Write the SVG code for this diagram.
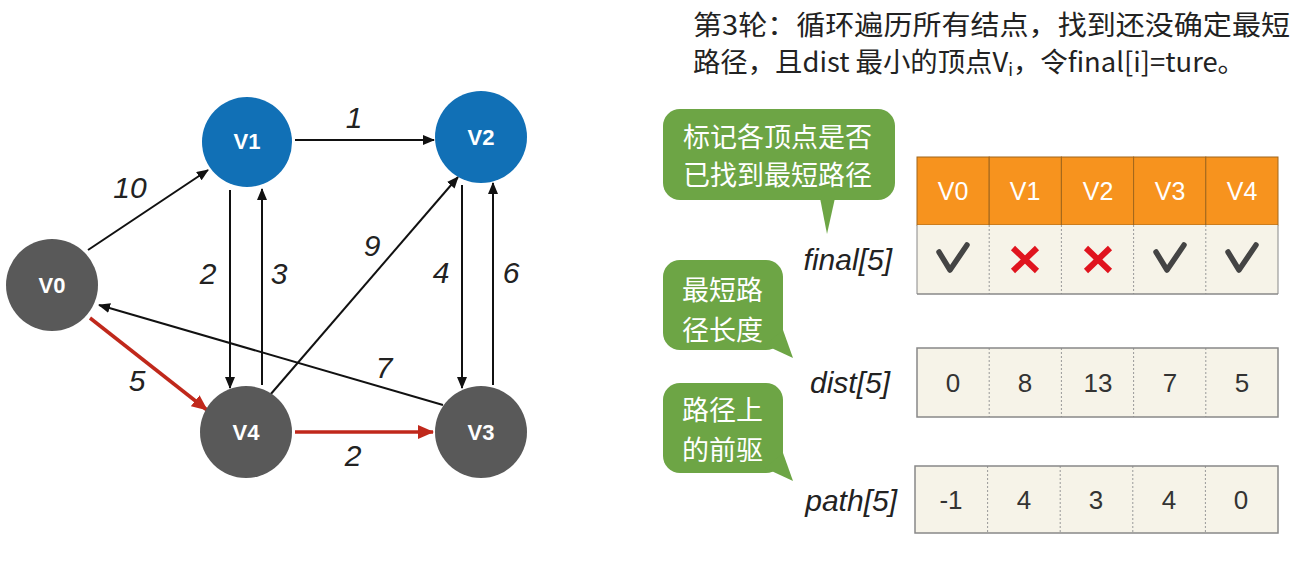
<svg xmlns="http://www.w3.org/2000/svg" width="1296" height="568" viewBox="0 0 1296 568">
<style>
.node-blue{fill:#1170B6}
.node-gray{fill:#595959}
.nl{font-family:"Liberation Sans",Arial,sans-serif;font-size:22px;font-weight:bold;fill:#fff;text-anchor:middle}
.el{font-family:"Liberation Sans",Arial,sans-serif;font-size:30px;font-style:italic;fill:#222;text-anchor:middle}
.edge{stroke:#111;stroke-width:2;fill:none}
.red{stroke:#C0281B;stroke-width:3.5;fill:none}
.title{font-family:"Noto Sans CJK SC","Liberation Sans",sans-serif;font-size:27px;fill:#222}
.bub{fill:#6DA545}
.bt{font-family:"Noto Sans CJK SC",sans-serif;font-size:27px;fill:#fff}
.lab{font-family:"Liberation Sans",Arial,sans-serif;font-size:30px;font-style:italic;fill:#222;text-anchor:end}
.hd{fill:#F7931E;stroke:#A0661C;stroke-width:1}
.cell{fill:#F6F3E8}
.outer{fill:none;stroke:#888;stroke-width:1.5}
.div{stroke:#999;stroke-width:1;stroke-dasharray:2 2}
.ht{font-family:"Liberation Sans",Arial,sans-serif;font-size:25px;fill:#fff;text-anchor:middle}
.ct{font-family:"Liberation Sans",Arial,sans-serif;font-size:26px;fill:#333;text-anchor:middle}
.chk{stroke:#444;stroke-width:5.5;fill:none;stroke-linecap:round;stroke-linejoin:round}
.x{stroke:#E0141E;stroke-width:6;stroke-linecap:butt}
</style>
<defs>
<marker id="ah" markerUnits="userSpaceOnUse" markerWidth="12" markerHeight="10" refX="11" refY="5" orient="auto">
<path d="M0,0 L12,5 L0,10 Z" fill="#111"/>
</marker>
<marker id="ahr" markerUnits="userSpaceOnUse" markerWidth="16" markerHeight="14" refX="15" refY="7" orient="auto">
<path d="M0,0 L16,7 L0,14 Z" fill="#C0281B"/>
</marker>
</defs>
<rect width="1296" height="568" fill="#fff"/>

<g id="connectors">
<line class="edge" x1="88" y1="250" x2="208" y2="170" marker-end="url(#ah)"/>
<line class="edge" x1="295" y1="140" x2="434" y2="140" marker-end="url(#ah)"/>
<line class="edge" x1="230" y1="190" x2="230" y2="388" marker-end="url(#ah)"/>
<line class="edge" x1="262" y1="385" x2="262" y2="189" marker-end="url(#ah)"/>
<line class="edge" x1="270" y1="395" x2="458" y2="177" marker-end="url(#ah)"/>
<line class="edge" x1="462" y1="185" x2="462" y2="388" marker-end="url(#ah)"/>
<line class="edge" x1="493" y1="385" x2="493" y2="183" marker-end="url(#ah)"/>
<line class="edge" x1="443" y1="405" x2="99" y2="305" marker-end="url(#ah)"/>
<line class="red" x1="90" y1="318" x2="207" y2="410" marker-end="url(#ahr)"/>
<line class="red" x1="295" y1="432" x2="433" y2="432" marker-end="url(#ahr)"/>
<text class="el" x="130" y="198">10</text>
<text class="el" x="354" y="128">1</text>
<text class="el" x="208" y="284">2</text>
<text class="el" x="279" y="284">3</text>
<text class="el" x="372" y="256">9</text>
<text class="el" x="441" y="283">4</text>
<text class="el" x="511" y="283">6</text>
<text class="el" x="384" y="378">7</text>
<text class="el" x="137" y="391">5</text>
<text class="el" x="353" y="466">2</text>
</g>

<g id="V0"><circle class="node-gray" cx="52" cy="285" r="46"/><text class="nl" x="52" y="293">V0</text></g>
<g id="V1"><circle class="node-blue" cx="247" cy="142" r="45"/><text class="nl" x="247" y="149">V1</text></g>
<g id="V2"><circle class="node-blue" cx="481" cy="137" r="46"/><text class="nl" x="481" y="145">V2</text></g>
<g id="V4"><circle class="node-gray" cx="246" cy="432" r="46"/><text class="nl" x="246" y="440">V4</text></g>
<g id="V3"><circle class="node-gray" cx="481" cy="432" r="46"/><text class="nl" x="481" y="440">V3</text></g>

<g id="title">
<text class="title" x="693" y="35" textLength="597" lengthAdjust="spacingAndGlyphs">第3轮：循环遍历所有结点，找到还没确定最短</text>
<text class="title" x="693" y="72" textLength="552" lengthAdjust="spacingAndGlyphs">路径，且dist 最小的顶点V<tspan font-size="17" dy="4">i</tspan><tspan dy="-4">，令final[i]=ture。</tspan></text>
</g>

<g id="bubble-final">
<rect class="bub" x="663" y="109" width="232" height="91" rx="17"/>
<path class="bub" d="M820,198 L835,198 L827,234 Z"/>
<text class="bt" x="683" y="147">标记各顶点是否</text>
<text class="bt" x="683" y="185">已找到最短路径</text>
</g>
<g id="bubble-dist">
<rect class="bub" x="663" y="260" width="120" height="90" rx="17"/>
<path class="bub" d="M765,345 L783,330 L793,358 Z"/>
<text class="bt" x="682" y="300">最短路</text>
<text class="bt" x="682" y="340">径长度</text>
</g>
<g id="bubble-path">
<rect class="bub" x="663" y="383" width="120" height="90" rx="17"/>
<path class="bub" d="M765,468 L783,453 L793,481 Z"/>
<text class="bt" x="682" y="420">路径上</text>
<text class="bt" x="682" y="460">的前驱</text>
</g>

<g id="labels">
<text class="lab" x="892" y="270">final[5]</text>
<text class="lab" x="890" y="393">dist[5]</text>
<text class="lab" x="897" y="511">path[5]</text>
</g>

<g id="final-table">
<rect class="hd" x="917" y="157" width="72.2" height="68"/>
<rect class="hd" x="989.2" y="157" width="72.2" height="68"/>
<rect class="hd" x="1061.4" y="157" width="72.2" height="68"/>
<rect class="hd" x="1133.6" y="157" width="72.2" height="68"/>
<rect class="hd" x="1205.8" y="157" width="72.2" height="68"/>
<text class="ht" x="953" y="200">V0</text>
<text class="ht" x="1025" y="200">V1</text>
<text class="ht" x="1098" y="200">V2</text>
<text class="ht" x="1170" y="200">V3</text>
<text class="ht" x="1242" y="200">V4</text>
<rect class="cell" x="917" y="225" width="361" height="69"/>
<line class="div" x1="989.2" y1="225" x2="989.2" y2="294"/>
<line class="div" x1="1061.4" y1="225" x2="1061.4" y2="294"/>
<line class="div" x1="1133.6" y1="225" x2="1133.6" y2="294"/>
<line class="div" x1="1205.8" y1="225" x2="1205.8" y2="294"/>
<line x1="917" y1="294" x2="1278" y2="294" stroke="#888" stroke-width="1.5"/>
<line x1="917" y1="225" x2="917" y2="294" stroke="#888" stroke-width="1"/>
<line x1="1278" y1="225" x2="1278" y2="294" stroke="#888" stroke-width="1"/>
<path class="chk" d="M939,252 L950,270 L967,245"/>
<path class="x" d="M1013,248 L1037,271 M1037,248 L1013,271"/>
<path class="x" d="M1086,248 L1110,271 M1110,248 L1086,271"/>
<path class="chk" d="M1156,252 L1167,270 L1184,245"/>
<path class="chk" d="M1228,252 L1239,270 L1256,245"/>
</g>

<g id="dist-table">
<rect class="cell" x="917" y="348" width="361" height="69"/>
<line class="div" x1="989.2" y1="348" x2="989.2" y2="417"/>
<line class="div" x1="1061.4" y1="348" x2="1061.4" y2="417"/>
<line class="div" x1="1133.6" y1="348" x2="1133.6" y2="417"/>
<line class="div" x1="1205.8" y1="348" x2="1205.8" y2="417"/>
<rect class="outer" x="917" y="348" width="361" height="69"/>
<text class="ct" x="953" y="392">0</text>
<text class="ct" x="1025" y="392">8</text>
<text class="ct" x="1098" y="392">13</text>
<text class="ct" x="1170" y="392">7</text>
<text class="ct" x="1242" y="392">5</text>
</g>

<g id="path-table">
<rect class="cell" x="915" y="466" width="363" height="67"/>
<line class="div" x1="987.6" y1="466" x2="987.6" y2="533"/>
<line class="div" x1="1060.2" y1="466" x2="1060.2" y2="533"/>
<line class="div" x1="1132.8" y1="466" x2="1132.8" y2="533"/>
<line class="div" x1="1205.4" y1="466" x2="1205.4" y2="533"/>
<rect class="outer" x="915" y="466" width="363" height="67"/>
<text class="ct" x="951" y="509">-1</text>
<text class="ct" x="1024" y="509">4</text>
<text class="ct" x="1096" y="509">3</text>
<text class="ct" x="1169" y="509">4</text>
<text class="ct" x="1241" y="509">0</text>
</g>
</svg>
